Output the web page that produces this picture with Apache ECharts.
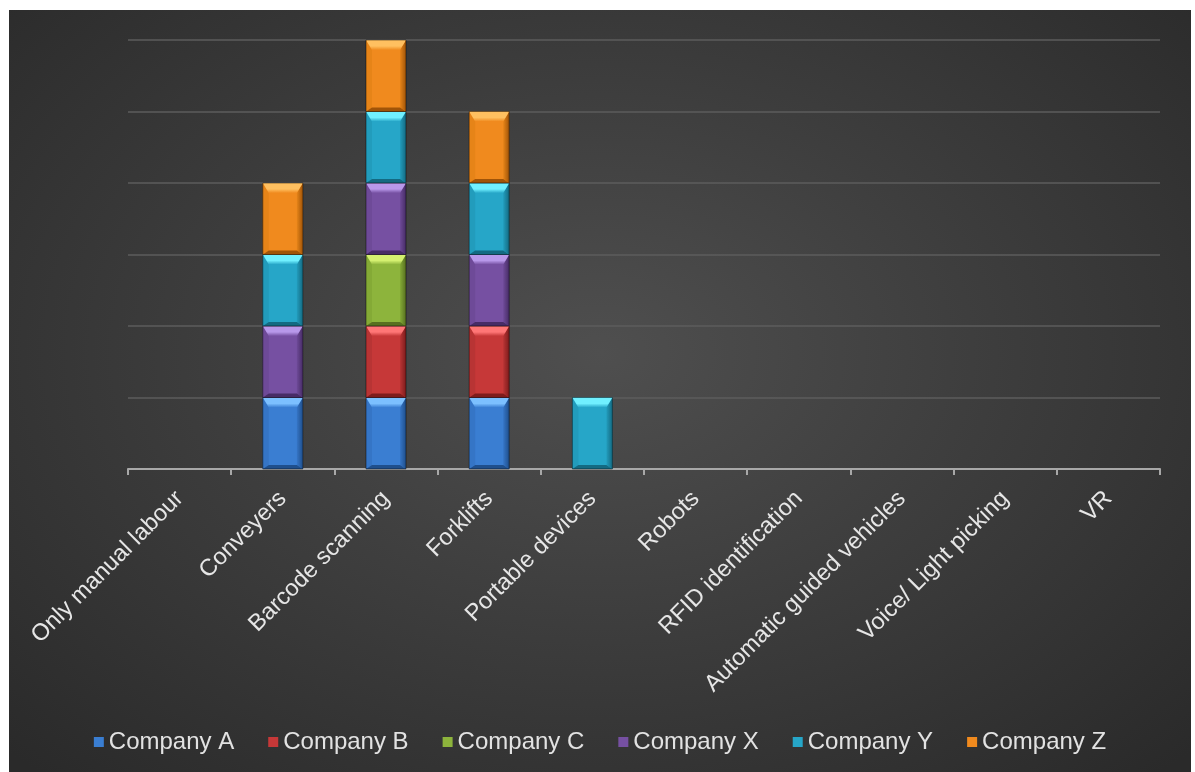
<!DOCTYPE html>
<html>
<head>
<meta charset="utf-8">
<script src="https://cdn.jsdelivr.net/npm/echarts@6/dist/echarts.min.js"></script>
<style>
html,body{margin:0;padding:0;background:#fff;width:1195px;height:772px;overflow:hidden;}
#chart{position:absolute;left:9px;top:10px;width:1182px;height:762px;
background:radial-gradient(ellipse 70% 75% at 50% 45%, #4f4f4f 0%, #3e3e3e 45%, #2a2a2a 100%);}
</style>
</head>
<body>
<div id="chart"></div>
<script>
var categories = ["Only manual labour","Conveyers","Barcode scanning","Forklifts","Portable devices","Robots","RFID identification","Automatic guided vehicles","Voice/ Light picking","VR"];
var seriesNames = ["Company A","Company B","Company C","Company X","Company Y","Company Z"];
var companyA = [0,1,1,1,0,0,0,0,0,0];
var companyB = [0,0,1,1,0,0,0,0,0,0];
var companyC = [0,0,1,0,0,0,0,0,0,0];
var companyX = [0,1,1,1,0,0,0,0,0,0];
var companyY = [0,1,1,1,1,0,0,0,0,0];
var companyZ = [0,1,1,1,0,0,0,0,0,0];
var yTicks = [0,1,2,3,4,5,6];

var values = [companyA,companyB,companyC,companyX,companyY,companyZ];
var colors = [
  {base:'#3a7ed2', light:'#7cc0ff', side:'#3575c6', dark:'#1f4f8c'},
  {base:'#c63838', light:'#ff7676', side:'#b83434', dark:'#7e1c1c'},
  {base:'#8db43c', light:'#d4f070', side:'#84aa36', dark:'#577020'},
  {base:'#7650a2', light:'#b898ea', side:'#6e4a98', dark:'#472c66'},
  {base:'#26a6c8', light:'#70f0ff', side:'#229cbc', dark:'#146a82'},
  {base:'#f08a1e', light:'#ffc060', side:'#e68418', dark:'#a05408'}
];
var BAR_W = 40, BEV = 6, BEV_TOP = 10, BEV_BOT = 4;

// cumulative stacking
var cum = categories.map(function(){return 0;});
var stacked = values.map(function(arr){
  return arr.map(function(v,ci){
    var b = cum[ci]; cum[ci] += v;
    return v ? [ci, b, b+v] : null;
  }).filter(function(d){return d;});
});

function makeRender(c){
  return function(params, api){
    var pb = api.coord([api.value(0), api.value(1)]);
    var pt = api.coord([api.value(0), api.value(2)]);
    var x0 = pb[0]-BAR_W/2, x1 = pb[0]+BAR_W/2, y0 = pb[1], y1 = pt[1];
    return {
      type:'group',
      children:[
        {type:'rect', shape:{x:x0,y:y1,width:BAR_W,height:y0-y1}, style:{fill:c.base}},
        {type:'polygon', shape:{points:[[x0,y1],[x0+BEV,y1+BEV_TOP],[x0+BEV,y0-BEV_BOT],[x0,y0]]}, style:{fill:c.side}},
        {type:'polygon', shape:{points:[[x1,y1],[x1-BEV,y1+BEV_TOP],[x1-BEV,y0-BEV_BOT],[x1,y0]]},
          style:{fill:new echarts.graphic.LinearGradient(0,0,1,0,[{offset:0,color:c.side},{offset:1,color:c.dark}])}},
        {type:'polygon', shape:{points:[[x0,y0],[x0+BEV,y0-BEV_BOT],[x1-BEV,y0-BEV_BOT],[x1,y0]]}, style:{fill:c.dark}},
        {type:'polygon', shape:{points:[[x0,y1],[x1,y1],[x1-BEV,y1+BEV_TOP],[x0+BEV,y1+BEV_TOP]]},
          style:{fill:new echarts.graphic.LinearGradient(0,0,0,1,[{offset:0,color:c.light},{offset:0.6,color:c.light},{offset:1,color:c.base}])}},
        {type:'rect', shape:{x:x0,y:y1,width:BAR_W,height:y0-y1}, style:{fill:'none', stroke:'rgba(0,0,0,0.45)', lineWidth:1}}
      ]
    };
  };
}

var chart = echarts.init(document.getElementById('chart'), null, {renderer:'canvas'});
var series = seriesNames.map(function(n,i){
  return {
    name:n, type:'custom', renderItem: makeRender(colors[i]),
    encode:{x:0, y:[1,2]},
    data: stacked[i],
    itemStyle:{color:colors[i].base},
    silent:true
  };
});
chart.setOption({
  backgroundColor:'transparent',
  animation:false,
  textStyle:{fontFamily:'Liberation Sans, Arial, sans-serif'},
  grid:{left:119,right:31,top:30,bottom:303,containLabel:false},
  legend:{
    bottom:13, left:'center', itemWidth:10, itemHeight:10, itemGap:34,
    padding:[5,5,5,13],
    icon:'rect',
    textStyle:{color:'#e2e2e2',fontSize:24,fontFamily:'Liberation Sans, Arial, sans-serif'},
    data: seriesNames
  },
  xAxis:{
    type:'category', data:categories, boundaryGap:true,
    axisLine:{lineStyle:{color:'#a8a8a8',width:2}},
    axisTick:{show:true,length:6,lineStyle:{color:'#a8a8a8',width:2}},
    axisLabel:{rotate:45,color:'#e6e6e6',fontSize:23.5,margin:26,interval:0,fontFamily:'Liberation Sans, Arial, sans-serif'}
  },
  yAxis:{
    type:'value', min:yTicks[0], max:yTicks[yTicks.length-1], interval:1,
    axisLine:{show:false}, axisTick:{show:false}, axisLabel:{show:false},
    splitLine:{lineStyle:{color:'#5c5c5c',width:1.5}}
  },
  series:series
});
</script>
</body>
</html>
